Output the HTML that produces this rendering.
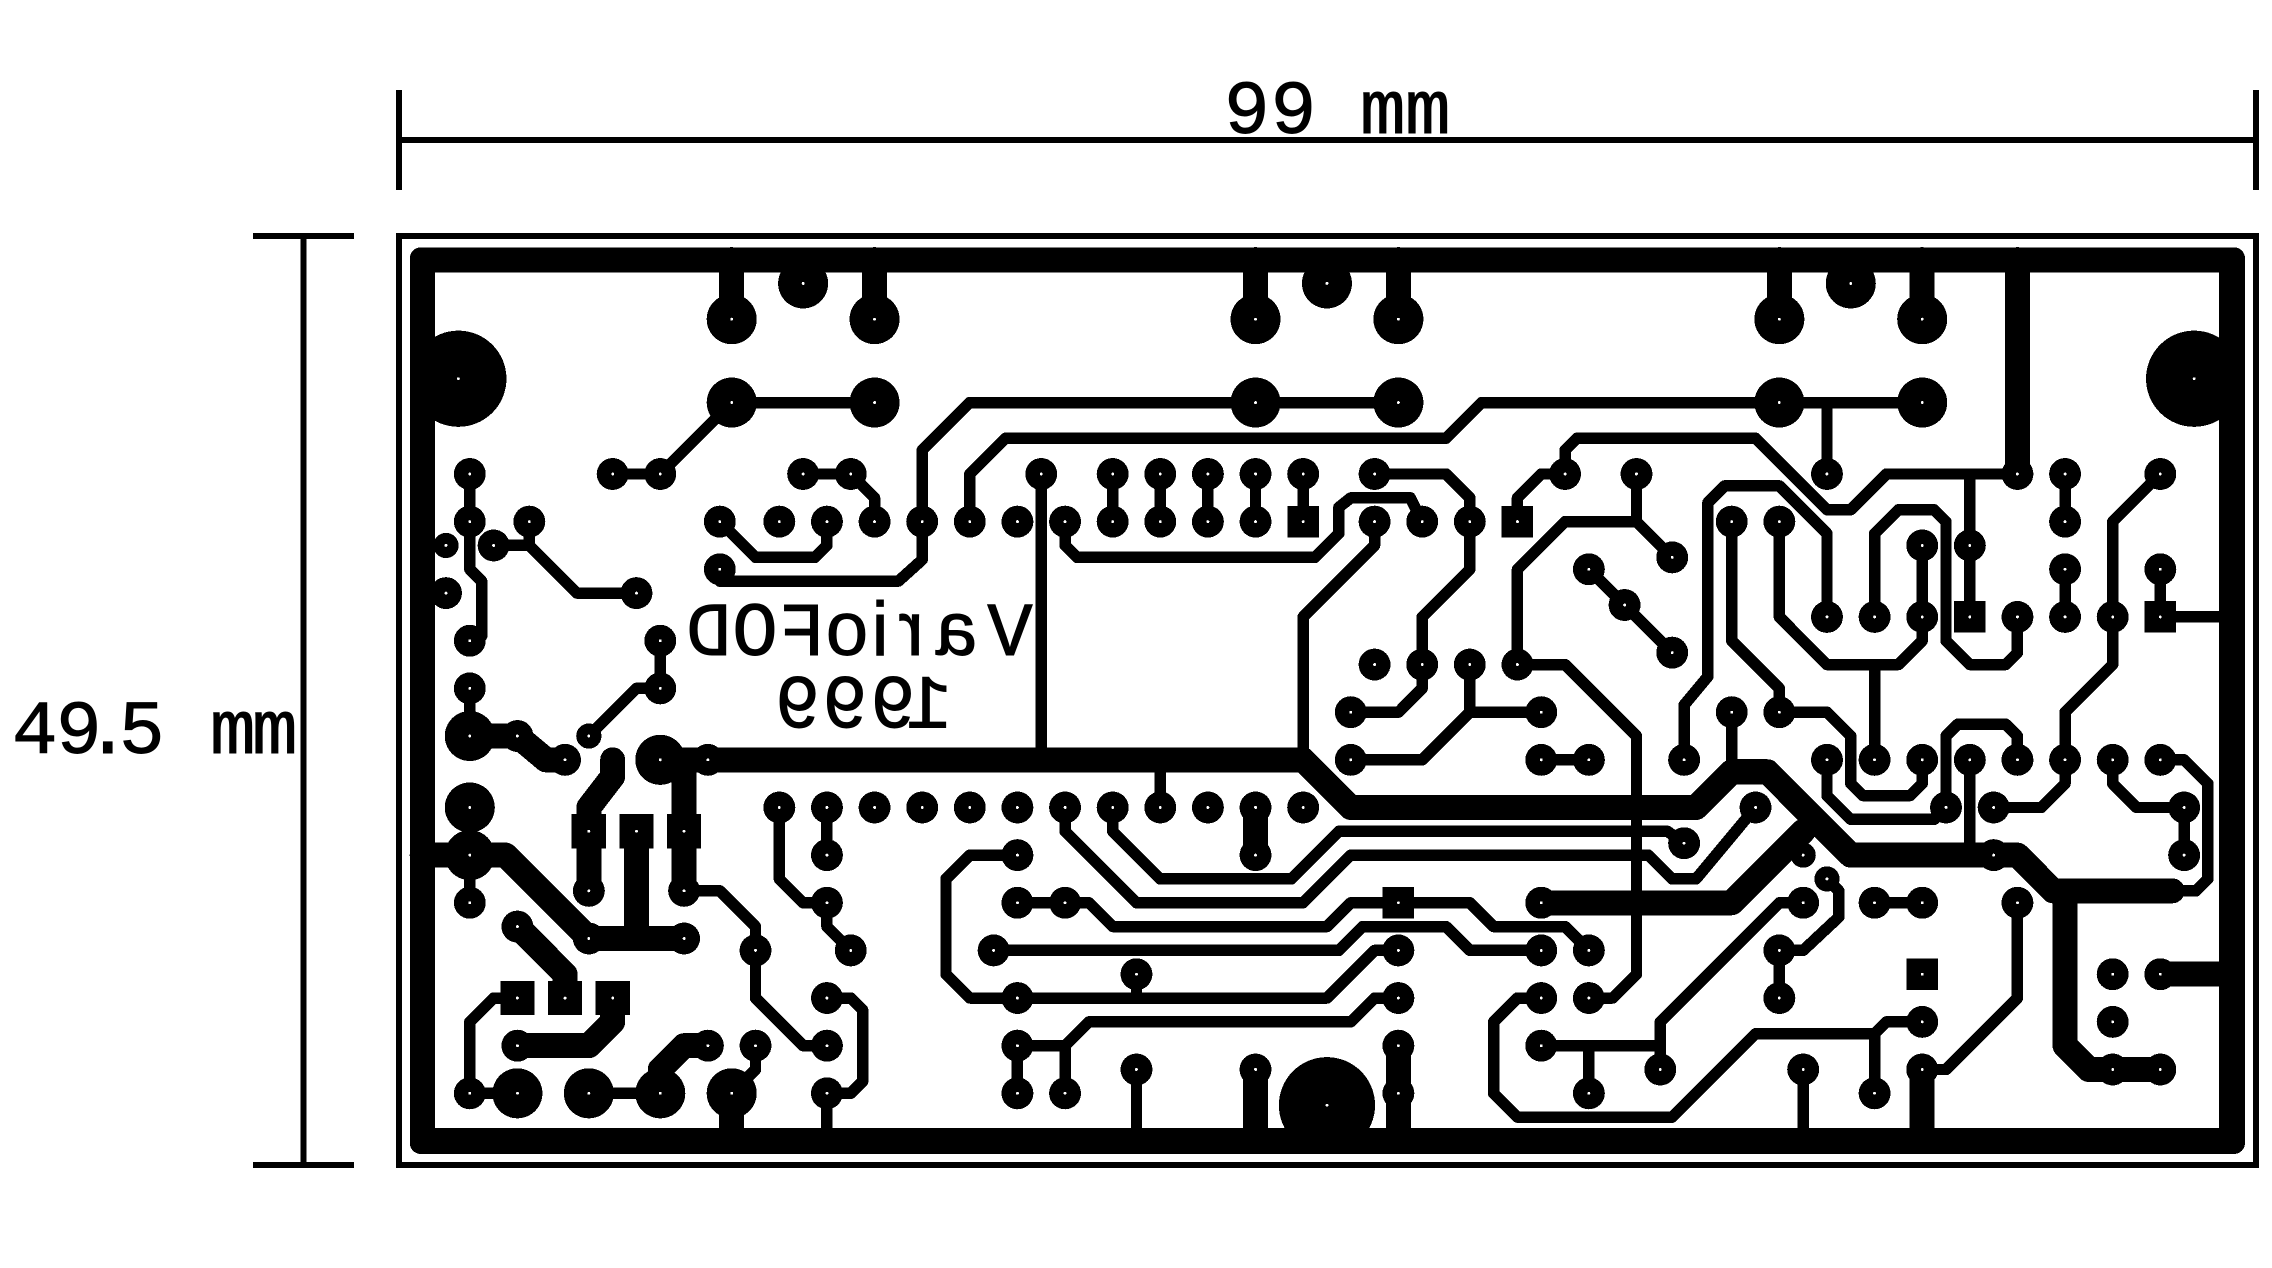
<!DOCTYPE html>
<html lang="en"><head><meta charset="utf-8"><title>VarioFOD PCB</title>
<style>html,body{margin:0;padding:0;background:#fff}svg{display:block}
text{font-family:"Liberation Mono",monospace;font-size:76px;fill:#000;stroke:#000;stroke-width:.9px}
.s{font-family:"Liberation Sans",sans-serif}</style></head><body>
<svg xmlns="http://www.w3.org/2000/svg" width="2272" height="1268" viewBox="0 0 2272 1268" shape-rendering="crispEdges">
<rect width="2272" height="1268" fill="#fff"/>
<!-- dimensions -->
<g stroke="#000" stroke-width="6" fill="none">
<path d="M399 90V190M2256 90V190M399 140H2256"/>
<path d="M253 236H354M253 1165H354M303.5 236V1165"/>
<rect x="399" y="236" width="1857" height="929"/>
</g>
<text x="1224 1270.6 1320 1360 1405" y="133">99 mm</text>
<text x="12 56 85 119 165 210 252" y="753">49.5 mm</text>
<!-- outer board copper frame -->
<rect x="409.8" y="247.3" width="1835.2" height="906.7" rx="11" fill="#000"/>
<rect x="435" y="272.7" width="1784" height="855.3" fill="#fff"/>
<!-- mirrored text -->
<g transform="scale(-1,1)">
<text y="655"><tspan x="-1032.8 -978.8">Va</tspan><tspan class="s" x="-923.7">r</tspan><tspan class="s" x="-888.5">i</tspan><tspan x="-869.8 -824.8 -777.8 -731.8">oFOD</tspan></text>
<text x="-951.5 -915.8 -867.8 -820.4" y="727.5">1999</text>
</g>
<g transform="translate(469.8 474) scale(23.81 23.82)" fill="none" stroke="#000" stroke-linecap="round" stroke-linejoin="round">
<defs>
<path id="sp" d="M0 0h0M6 0h0M8 0h0M14 0h0M16 0h0M24 0h0M27 0h0M29 0h0M31 0h0M33 0h0M35 0h0M38 0h0M46 0h0M49 0h0M57 0h0M65 0h0M67 0h0M71 0h0
M0 2h0M2.5 2h0M10.5 2h0M13 2h0M15 2h0M17 2h0M19 2h0M21 2h0M23 2h0M25 2h0M27 2h0M29 2h0M31 2h0M33 2h0M38 2h0M40 2h0M42 2h0M53 2h0M55 2h0M67 2h0
M1 3h0M61 3h0M63 3h0M10.5 4h0M47 4h0M67 4h0M71 4h0M-1 5h0M7 5h0M48.5 5.5h0M50.5 3.5h0M50.5 7.5h0
M57 6h0M59 6h0M61 6h0M65 6h0M67 6h0M69 6h0M0 7h0M8 7h0M38 8h0M40 8h0M42 8h0M44 8h0M0 9h0M8 9h0
M37 10h0M45 10h0M53 10h0M55 10h0M2 11h0M4 12h0M10 12h0M37 12h0M45 12h0M47 12h0M51 12h0M57 12h0M59 12h0M61 12h0M63 12h0M65 12h0M67 12h0M69 12h0M71 12h0
M13 14h0M15 14h0M17 14h0M19 14h0M21 14h0M23 14h0M25 14h0M27 14h0M29 14h0M31 14h0M33 14h0M35 14h0M54 14h0M62 14h0M64 14h0M72 14h0
M51 15.5h0M15 16h0M23 16h0M33 16h0M64 16h0M72 16h0M5 17.5h0M9 17.5h0
M0 18h0M15 18h0M23 18h0M25 18h0M45 18h0M56 18h0M59 18h0M61 18h0M65 18h0M2 19h0M5 19.5h0M9 19.5h0
M12 20h0M16 20h0M22 20h0M39 20h0M45 20h0M47 20h0M55 20h0M28 21h0M69 21h0M71 21h0
M15 22h0M23 22h0M39 22h0M45 22h0M47 22h0M55 22h0M61 23h0M69 23h0
M2 24h0M10 24h0M12 24h0M15 24h0M23 24h0M39 24h0M45 24h0M28 25h0M33 25h0M50 25h0M56 25h0M61 25h0M69 25h0M71 25h0
M0 26h0M15 26h0M23 26h0M25 26h0M39 26h0M47 26h0M59 26h0"/>
<path id="ss" d="M-1 3h0M5 11h0M56 16h0M57 17h0"/>
<path id="bp" d="M11 -6.5h0M14 -8h0M17 -6.5h0M33 -6.5h0M36 -8h0M39 -6.5h0M55 -6.5h0M58 -8h0M61 -6.5h0M11 -3h0M17 -3h0M33 -3h0M39 -3h0M55 -3h0M61 -3h0M0 11h0M0 14h0M8 12h0M2 26h0M5 26h0M8 26h0M11 26h0M0 16h0"/>
<path id="mh" d="M-.48 -4h0M72.42 -4h0M36 26.5h0"/>
<path id="sq1" d="M35 2h0M44 2h0M63 6h0M71 6h0M61 21h0M39 18h0"/>
<path id="sq2" d="M5 15h0M7 15h0M9 15h0M2 22h0M4 22h0M6 22h0"/>
</defs>
<!-- thick traces -->
<path stroke-width="1.05" d="M11 -9V-6.5M17 -9V-6.5M33 -9V-6.5M39 -9V-6.5M55 -9V-6.5M61 -9V-6.5M65 -9V0
M8 12H35L37 14H51.5L53 12.5H54.5L58 16H65L66.5 17.5H71.5
M67 17.5V24L68 25H71M45 18H53L56 15M33 14V16M71 21H74M33 25V27.5M39 24V27.5M61 25V27.5M11 26V27.5
M-2 16H1.5L5 19.5M7 15V19.5M5 19.5H9M9 12V17.5M6 12V12.7L5 14V17.5
M0 11H2L3.2 12H4M2 19L4 21V22M6 22V23L5 24H2M10 24H9L8 25V26"/>
<!-- thin traces -->
<path stroke-width=".48" d="M0 0V4L.5 4.5V6.8M1 3H2.5M2.5 2V3L4.5 5H7M6 0H8L11 -3H17M14 0H16L17 1V2
M10.5 2L12 3.5H14.5L15 3V2M10.5 4.5H18L19 3.6V-1L21 -3H39M21 2V0L22.5 -1.5H41L42.5 -3H61
M24 0V12M27 0V2M29 0V2M31 0V2M33 0V2M35 0V2
M25 2V3L25.5 3.5H35.5L36.5 2.5V1.4L37 1H39.5L40 2
M38 0H41L42 1V4L40 6V8M38 2V3L35 6V12M44 2V1L45 0H46M46 0V-1L46.5 -1.5H54L57 1.5H58L59.5 0H65
M44 8V4L46 2H49M49 0V2L50.5 3.5M47 4L48.5 5.5L50.5 7.5M44 8H46L49 11V21L48 22H47
M42 8V10H45M42 10L40 12H37M37 10H39L40 9V8
M57 6V2.5L55 .5H52.7L52 1.2V8.5L51 9.7V12M53 2V7L55 9V10M55 2V6L57 8H60L61 7V6M59 8V12
M59 6V2.5L60 1.5H61.5L62 2V7L63 8H64.5L65 7.5V6M61 3V6M63 0V6M67 0V2M67 4V6M71 0L69 2V8L67 10V12M71 4V6M71 6H74M57 -3V0
M53 10V12.5M55 10H57L58 11V13L58.5 13.5H60.5L61 13V12M57 12V13.5L58 14.5H61.5L62 14M62 14V11L62.5 10.5H64.5L65 11V12
M63 12V16M64 14H66L67 13V12M69 12V13L70 14H72M71 12H72L73 13V17L72.5 17.5H71.5M72 14V16
M25 14V15L28 18H35L37 16H49.5L50.5 17H51.5L54 14
M27 14V15L29 17H34.5L36.5 15H50.3L51 15.5
M23 18H26L27 19H36L37 18H42L43 19H46L47 20
M22 20H36.5L37.5 19H41L42 20H45M39 20H38L36 22H21L20 21V17L21 16H23
M28 21V22M39 22H38L37 23H26L25 24H23M23 24V26M25 24V26M28 25V27.5M29 12.5V14M45 12H47
M45 22H44L43 23V26L44 27H50.5L54 23.5H59L59.5 23H61M59 23.5V26
M45 24H50M56 18H55L50 23V25M47 24V26M56 25V27.5M57 17L57.5 17.5V18.6L56 20H55M55 20V22M59 18H61
M65 18V22L62 25H61M8 7V9M5 11L7 9H8M0 9V11M0 14V18
M9 17.5H10.5L12 19V22L14 24H15M2 22H1L0 23V26H2M5 26H8M12 24V25L11 26
M15 22H16L16.5 22.5V25.5L16 26H15M15 26V27.5M15 14V16M13 14V17L14 18H15M15 18V19L16 20M19 2V-1"/>
<!-- pads -->
<use href="#sp" stroke-width="1.34"/>
<use href="#ss" stroke-width="1.06"/>
<use href="#bp" stroke-width="2.1"/>
<use href="#mh" stroke-width="4.04"/>
<use href="#sq1" stroke-width="1.32" stroke-linecap="square"/>
<use href="#sq2" stroke-width="1.44" stroke-linecap="square"/>
<!-- drill holes -->
<g stroke="#fff" stroke-width=".12">
<use href="#sp"/><use href="#ss"/><use href="#bp"/><use href="#mh"/><use href="#sq1"/><use href="#sq2"/>
</g>
</g>
</svg>
</body></html>
